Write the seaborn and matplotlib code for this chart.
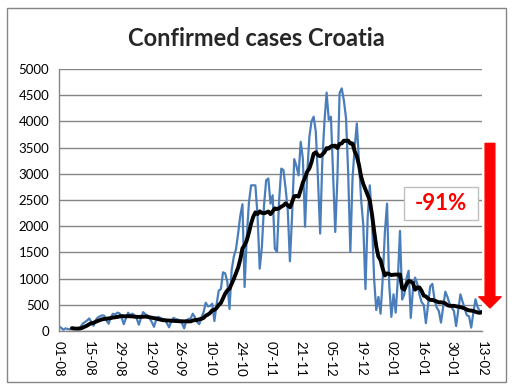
import numpy as np
import pandas as pd
import seaborn as sns
import matplotlib.pyplot as plt
from matplotlib.patches import Rectangle

# daily confirmed cases, 01-08 .. 13-02
aug = [90, 60, 25, 50, 40, 30, 70,
       55, 45, 30, 80, 140, 170, 200,
       240, 170, 100, 210, 260, 280, 300,
       290, 200, 140, 260, 330, 310, 350,
       340, 260, 130]
sep = [240, 350, 300, 330,
       300, 240, 120, 250, 360, 320, 300,
       240, 170, 80, 210, 270, 250, 230,
       220, 150, 70, 180, 250, 230, 220,
       200, 150, 50, 200, 230]
oct_ = [240, 330,
        260, 170, 130, 260, 360, 540, 470,
        480, 520, 190, 500, 770, 800, 1120,
        1100, 940, 420, 1160, 1420, 1560, 1860,
        2200, 2420, 840, 1800, 2450, 2780, 2780,
        2780]
nov = [2200, 1190, 1600, 2400, 2880, 2910,
       2430, 2590, 1570, 1510, 2500, 3100, 3070,
       2720, 2300, 1330, 2200, 3280, 3150, 2970,
       3610, 3290, 1990, 3000, 3700, 4000, 4090,
       3800, 2900, 1860]
dec = [3230, 4000, 4550, 4030,
       4090, 2970, 1890, 2910, 4540, 4630, 4400,
       4060, 3000, 1510, 2910, 3500, 3960, 3230,
       2500, 2020, 800, 2150, 2780, 2150, 1000,
       400, 650, 330, 1000, 1890, 2430]
jan = [900, 270, 700, 350, 990, 1910, 600,
       700, 1000, 1150, 250, 800, 1020, 900,
       700, 550, 500, 150, 500, 850, 900,
       600, 450, 380, 160, 450, 750, 650,
       520, 450, 380]
feb = [95, 400, 700, 560, 420, 300, 280,
       65, 350, 605, 450, 380, 380]

tick_labels = ["01-08", "15-08", "29-08", "12-09", "26-09", "10-10", "24-10",
               "07-11", "21-11", "05-12", "19-12", "02-01", "16-01", "30-01", "13-02"]
y_ticks = list(range(0, 5001, 500))
change_label = "-91%"

daily = aug + sep + oct_ + nov + dec + jan + feb
df = pd.DataFrame({"day": np.arange(len(daily)), "cases": daily})
df["avg"] = df["cases"].rolling(7).mean()

sns.set_theme(style="white")
plt.rcParams["font.family"] = ["Lato", "DejaVu Sans"]

W, H = 515, 391
fig = plt.figure(figsize=(W / 100, H / 100), dpi=100)
ax = fig.add_axes([59 / W, 1 - 331 / H, 423 / W, 262 / H])

grey = "#868686"
sns.lineplot(data=df, x="day", y="cases", color="#4a7ebb", lw=1.6, ax=ax)
sns.lineplot(data=df, x="day", y="avg", color="black", lw=2.8, ax=ax)

ax.set_xlim(0, len(daily) - 1)
ax.set_ylim(0, 5000)
ax.set_yticks(y_ticks)
ax.set_yticklabels([str(v) for v in y_ticks], fontsize=9.5)
ax.set_xticks(np.arange(0, len(daily), 14))
ax.set_xticklabels(tick_labels, rotation=-90, fontsize=9.5)
ax.set_xlabel("")
ax.set_ylabel("")
ax.yaxis.grid(True, color=grey, lw=1)
ax.set_axisbelow(True)
for s in ["top", "right"]:
    ax.spines[s].set_visible(False)
for s in ["left", "bottom"]:
    ax.spines[s].set_color(grey)
    ax.spines[s].set_linewidth(1)
ax.tick_params(axis="both", direction="out", length=4, color=grey, width=1,
               colors="black", pad=3)
ax.tick_params(axis="both", color=grey)

# red arrow + box
ax.annotate("", xy=(199.7, 440), xytext=(199.7, 3580),
            arrowprops=dict(facecolor="red", edgecolor="red", width=7,
                            headwidth=16, headlength=8, shrink=0),
            annotation_clip=False)
fig.patches.append(Rectangle((404 / W, 1 - 220 / H), 74 / W, 33 / H,
                             transform=fig.transFigure, facecolor="white",
                             edgecolor="#bfbfbf", lw=1))
fig.text(441 / W, 1 - 204 / H, change_label, color="red", fontsize=16,
         fontweight="bold", ha="center", va="center")

fig.text(256.5 / W, 1 - 38 / H, "Confirmed cases Croatia", ha="center",
         va="center", fontsize=17, fontweight="bold")
fig.patches.append(Rectangle((7 / W, 1 - 382 / H), 499 / W, 374 / H,
                             transform=fig.transFigure, fill=False,
                             edgecolor=grey, lw=1))

fig.savefig("out.png", dpi=100)
